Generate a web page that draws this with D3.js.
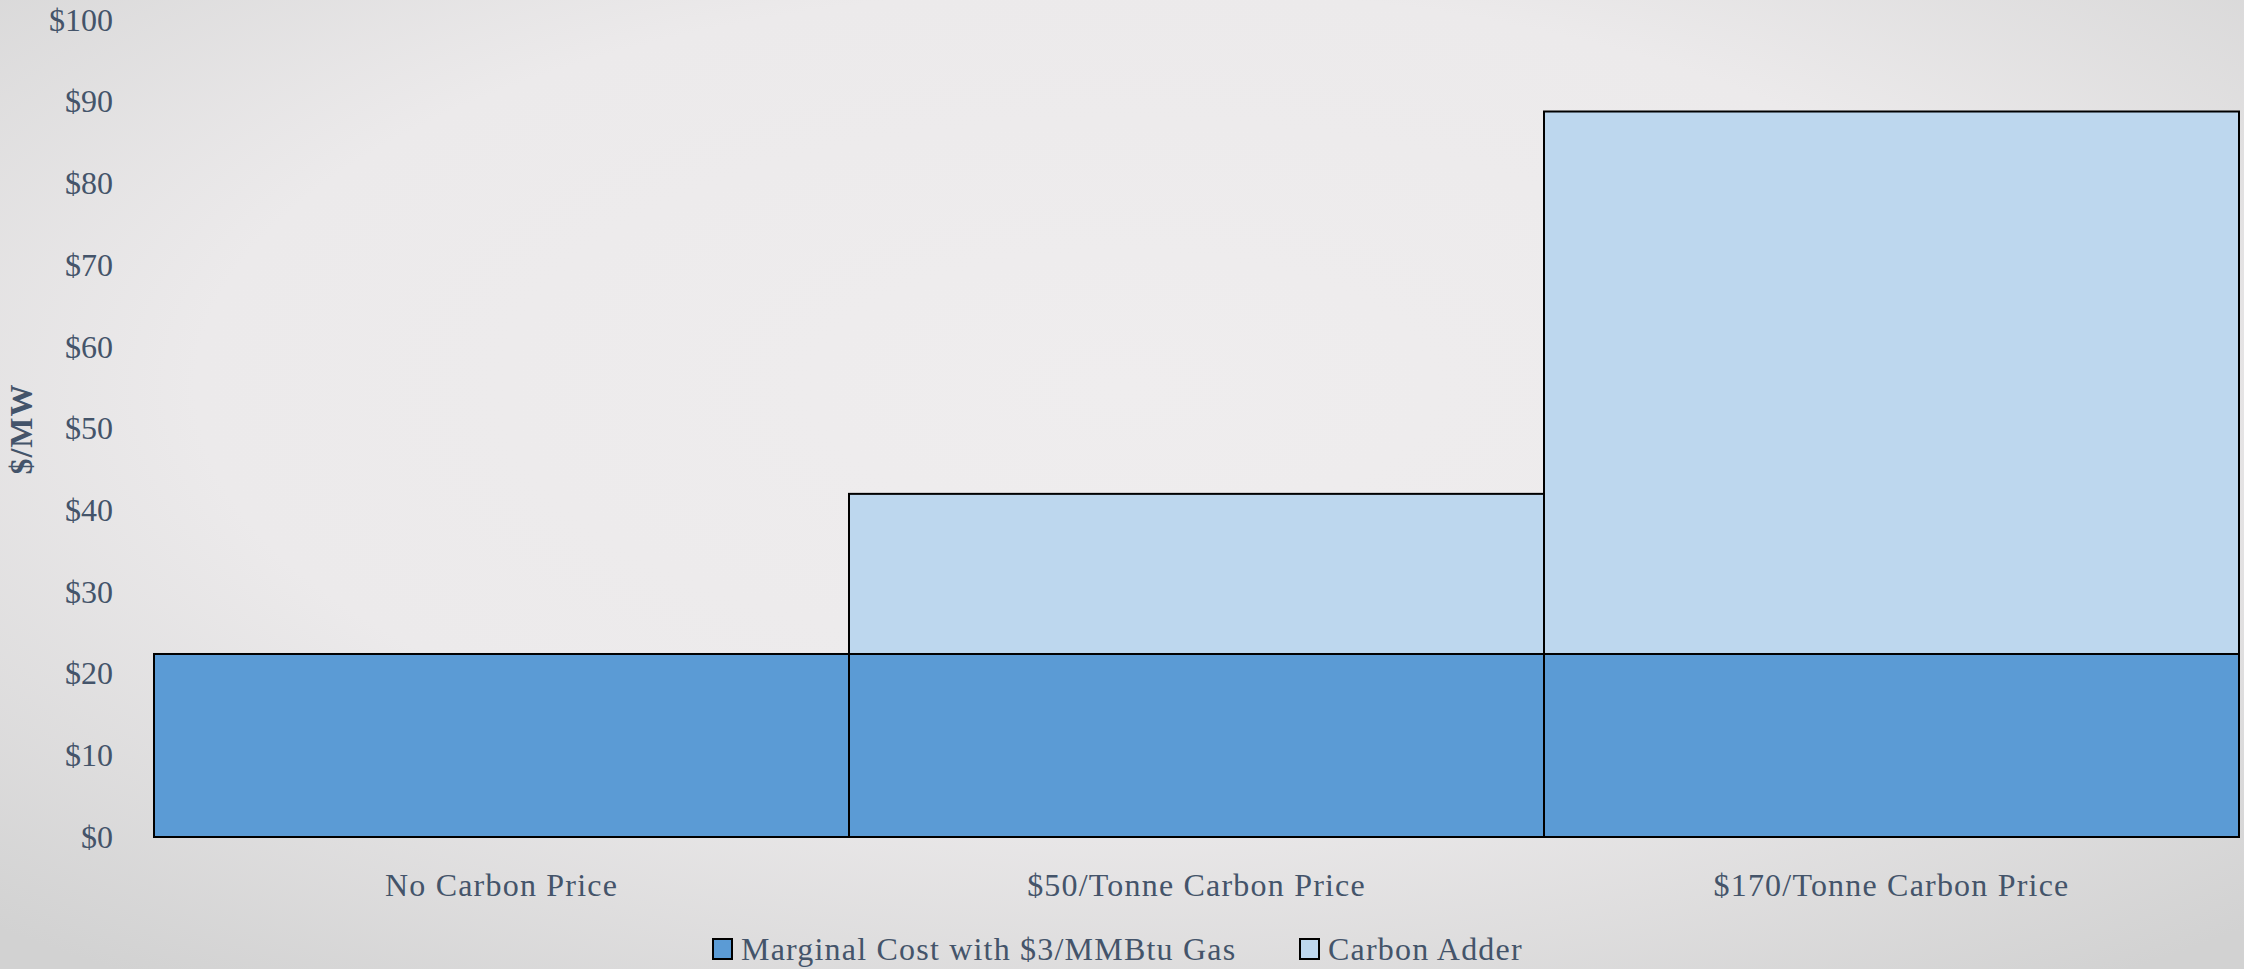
<!DOCTYPE html>
<html>
<head>
<meta charset="utf-8">
<script src="https://cdn.jsdelivr.net/npm/d3@7"></script>
<style>
  html, body { margin: 0; padding: 0; overflow: hidden; }
  svg { display: block; }
</style>
</head>
<body>
<svg id="chart" width="2244" height="969"></svg>
<script>
// Cost of gas-fired generation under different carbon prices ($/MW)
const categories = ["No Carbon Price", "$50/Tonne Carbon Price", "$170/Tonne Carbon Price"];
const marginalCost = [22.4, 22.4, 22.4];
const carbonAdder = [0, 19.6, 66.4];
const seriesNames = ["Marginal Cost with $3/MMBtu Gas", "Carbon Adder"];
const yTicks = [0, 10, 20, 30, 40, 50, 60, 70, 80, 90, 100];

const W = 2244, H = 969;
const margin = { left: 154, right: 5, top: 20, bottom: 132 };
const textColor = "#44546A";
const fontFamily = "'Palatino Linotype', Palatino, 'Book Antiqua', 'Liberation Serif', serif";
const fontSize = 32;
const spacing = 1.2;
const colors = ["#5B9BD5", "#BDD7EE"];

const svg = d3.select("#chart");

// soft vignette background
const defs = svg.append("defs");
const grad = defs.append("radialGradient")
  .attr("id", "bg")
  .attr("cx", "50%").attr("cy", "40%").attr("r", "75%")
  .attr("gradientUnits", "objectBoundingBox");
grad.append("stop").attr("offset", "0%").attr("stop-color", "#EFEDEE");
grad.append("stop").attr("offset", "55%").attr("stop-color", "#ECEAEB");
grad.append("stop").attr("offset", "100%").attr("stop-color", "#D2D2D2");
svg.append("rect").attr("width", W).attr("height", H).attr("fill", "url(#bg)");

const x = d3.scaleBand()
  .domain(categories)
  .range([margin.left, W - margin.right])
  .paddingInner(0).paddingOuter(0);

const y = d3.scaleLinear()
  .domain([0, 100])
  .range([H - margin.bottom, margin.top]);

// stacked data
const rows = categories.map((c, i) => ({ cat: c, base: marginalCost[i], adder: carbonAdder[i] }));
const stack = d3.stack().keys(["base", "adder"])(rows);

const g = svg.append("g");
stack.forEach((layer, li) => {
  g.append("g")
    .selectAll("rect")
    .data(layer)
    .join("rect")
    .attr("x", d => x(d.data.cat))
    .attr("width", x.bandwidth())
    .attr("y", d => y(d[1]))
    .attr("height", d => y(d[0]) - y(d[1]))
    .attr("fill", colors[li])
    .attr("stroke", "#000")
    .attr("stroke-width", 2);
});

// y axis
const yAxis = svg.append("g")
  .attr("transform", `translate(${margin.left},0)`)
  .call(d3.axisLeft(y).tickValues(yTicks).tickSize(0).tickPadding(41).tickFormat(d => "$" + d));
yAxis.select(".domain").remove();
yAxis.selectAll("text")
  .attr("fill", textColor)
  .attr("font-family", fontFamily)
  .attr("font-size", fontSize);

// x axis labels
const xAxis = svg.append("g")
  .attr("transform", `translate(0,${H - margin.bottom})`)
  .call(d3.axisBottom(x).tickSize(0).tickPadding(36));
xAxis.select(".domain").remove();
xAxis.selectAll("text")
  .attr("fill", textColor)
  .attr("font-family", fontFamily)
  .attr("font-size", fontSize)
  .attr("letter-spacing", spacing);

// y axis title
svg.append("text")
  .attr("transform", "translate(32,429) rotate(-90)")
  .attr("text-anchor", "middle")
  .attr("fill", textColor)
  .attr("font-family", fontFamily)
  .attr("font-weight", "bold")
  .attr("font-size", fontSize)
  .attr("letter-spacing", 1)
  .text("$/MW");

// legend
const legendX = [713, 1300];
const legend = svg.append("g");
seriesNames.forEach((name, i) => {
  legend.append("rect")
    .attr("x", legendX[i]).attr("y", 939)
    .attr("width", 19).attr("height", 20)
    .attr("fill", colors[i])
    .attr("stroke", "#000").attr("stroke-width", 2);
  legend.append("text")
    .attr("x", legendX[i] + 28).attr("y", 960)
    .attr("fill", textColor)
    .attr("font-family", fontFamily)
    .attr("font-size", fontSize)
    .attr("letter-spacing", spacing)
    .text(name);
});
</script>
</body>
</html>
